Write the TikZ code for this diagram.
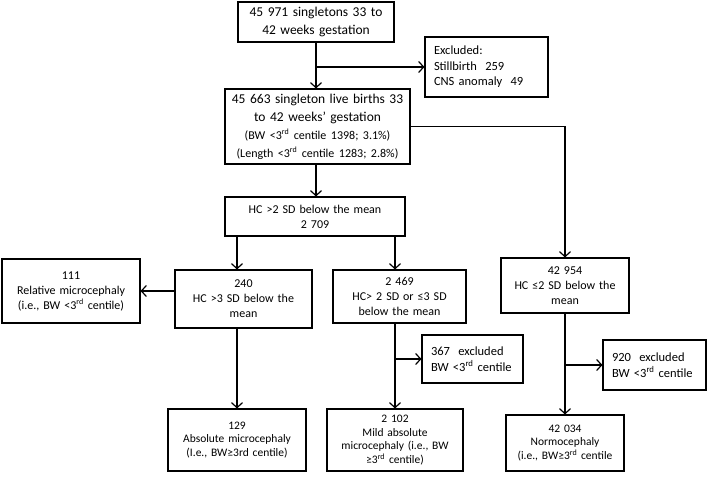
\documentclass[tikz,border=0pt]{standalone}
\usepackage{fontspec}
\setmainfont{Carlito}
\usetikzlibrary{arrows.meta}
\tikzset{
  box/.style={draw, line width=1.1pt, align=center, inner xsep=4pt, inner ysep=2pt,
    font=\fontsize{12}{15}\selectfont},
  bigbox/.style={box, font=\fontsize{13.5}{18}\selectfont},
  lowbox/.style={box, font=\fontsize{11.5}{13.8}\selectfont},
  exbox/.style={box, align=left, inner xsep=9pt, font=\fontsize{12.5}{15.5}\selectfont},
  flow/.style={line width=1.2pt, -{Straight Barb[length=5pt,width=11pt,line width=1.2pt]}}
}
\begin{document}
\begin{tikzpicture}[x=1pt, y=-1pt]
  \useasboundingbox (0,0) rectangle (708,477);
  % top part
  \node (A) at (316,22) [bigbox, text width=148pt, minimum height=40pt]
    {45 971 singletons 33 to\\42 weeks gestation};
  \node (excl) at (486.5,67) [exbox, text width=105pt, minimum height=60pt]
    {Excluded:\\Stillbirth~ 259\\CNS anomaly~ 49};
  \node (B) at (317.5,126.5) [bigbox, text width=177pt, minimum height=75pt]
    {45 663 singleton live births 33\\to 42 weeks’ gestation\\
     {\fontsize{12}{17}\selectfont (BW <3\textsuperscript{rd} centile 1398; 3.1\%)}\\
     {\fontsize{12}{17}\selectfont (Length <3\textsuperscript{rd} centile 1283; 2.8\%)}};
  \node (hc) at (315,216.5) [box, text width=172pt, minimum height=39pt]
    {HC >2 SD below the mean\\2 709};
  % middle row
  \node (rel) at (71,291) [box, text width=130pt, minimum height=64pt]
    {111\\Relative microcephaly\\(i.e., BW <3\textsuperscript{rd} centile)};
  \node (sd3) at (243.5,299) [box, text width=129pt, minimum height=58pt]
    {240\\HC >3 SD below the\\mean};
  \node (sd2) at (399.5,296.5) [box, text width=125pt, minimum height=53pt]
    {2 469\\HC> 2 SD or ≤3 SD\\below the mean};
  \node (norm) at (565,285.5) [box, text width=120pt, minimum height=55pt]
    {42 954\\HC ≤2 SD below the\\mean};
  \node (ex367) at (472.5,359) [exbox, text width=83pt, minimum height=48pt]
    {367~ excluded\\BW <3\textsuperscript{rd} centile};
  \node (ex920) at (654.5,365) [exbox, text width=85pt, minimum height=50pt]
    {920~ excluded\\BW <3\textsuperscript{rd} centile};
  % bottom row
  \node (abs) at (237,440) [lowbox, text width=130pt, minimum height=62pt]
    {129\\Absolute microcephaly\\(I.e., BW≥3rd centile)};
  \node (mild) at (395,440) [lowbox, text width=128pt, minimum height=62pt]
    {2 102\\Mild absolute\\microcephaly (i.e., BW\\≥3\textsuperscript{rd} centile)};
  \node (normo) at (565,443) [lowbox, text width=110pt, minimum height=56pt]
    {42 034\\Normocephaly\\(i.e., BW≥3\textsuperscript{rd} centile};
  % connectors
  \draw[flow] (A.south) -- (A.south |- B.north);
  \draw[flow] (A.south |- excl.west) -- (excl.west);
  \draw[flow] (A.south |- B.south) -- (A.south |- hc.north);
  \draw[flow] (B.east) -| (norm.north);
  \draw[flow] (hc.south -| abs.north) -- (sd3.north -| abs.north);
  \draw[flow] (hc.south -| mild.north) -- (sd2.north -| mild.north);
  \draw[flow] (sd3.west |- rel.east) -- (rel.east);
  \draw[flow] (sd3.south -| abs.north) -- (abs.north);
  \draw[flow] (sd2.south -| mild.north) -- (mild.north);
  \draw[flow] (mild.north |- ex367.west) -- (ex367.west);
  \draw[flow] (norm.south) -- (normo.north);
  \draw[flow] (norm.south |- ex920.west) -- (ex920.west);
\end{tikzpicture}
\end{document}
